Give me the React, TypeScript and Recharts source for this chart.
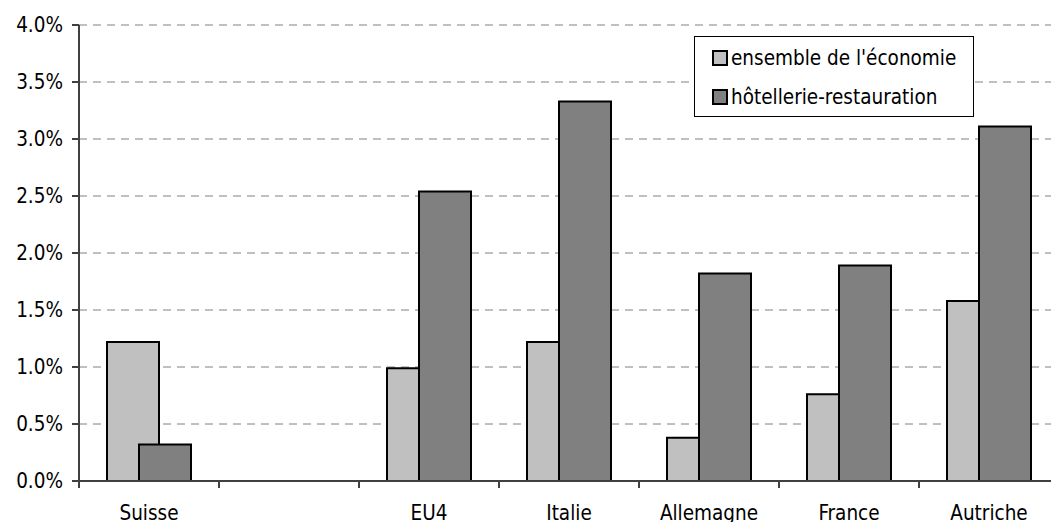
import {BarChart, Bar, XAxis, YAxis, CartesianGrid, Legend} from 'recharts';

const countries = ['Suisse', '', 'EU4', 'Italie', 'Allemagne', 'France', 'Autriche'];
const economie = [1.22, null, 0.99, 1.22, 0.38, 0.76, 1.58];
const hotellerie = [0.32, null, 2.54, 3.33, 1.82, 1.89, 3.11];
const yTicks = [0, 0.5, 1, 1.5, 2, 2.5, 3, 3.5, 4];

const data = countries.map((pays, i) => ({
  pays,
  economie: economie[i],
  hotellerie: hotellerie[i],
}));

const W = 1070;
const H = 522;
const M = {top: 25, right: 11, bottom: 0, left: 0};
const Y_W = 79;
const BAND = (W - M.left - M.right - Y_W) / countries.length;
const FONT = '"DejaVu Sans Condensed", "DejaVu Sans", Verdana, sans-serif';
const FS = 20.5;

const CatTick = (props: any) => {
  const {x, y, payload} = props;
  return (
    <g>
      <line x1={x - BAND / 2} y1={y - 8} x2={x - BAND / 2} y2={y - 1} stroke="#404040" strokeWidth={2}/>
      <text x={x} y={y + 31} textAnchor="middle" fontSize={FS} fontFamily={FONT} fill="#000">
        {payload.value}
      </text>
    </g>
  );
};

const LegendBox = ({payload}: any) => (
  <div style={{border: '1px solid #000', background: '#fff', width: 278, height: 79,
    boxSizing: 'content-box', fontFamily: FONT, fontSize: FS, color: '#000'}}>
    {(payload || []).map((p: any, i: number) => (
      <div key={i} style={{position: 'absolute', left: 18, top: 10 + i * 39, display: 'flex', alignItems: 'center'}}>
        <span style={{width: 12, height: 12, border: '2px solid #000', background: p.color,
          display: 'inline-block', marginRight: 3}}/>
        <span>{p.value}</span>
      </div>
    ))}
  </div>
);

const App = () => {
  return (
    <div style={{position: 'absolute', left: 0, top: 0, width: 1051, height: 522,
      overflow: 'hidden', background: '#fff'}}>
      <BarChart width={W} height={H} data={data} margin={M} barSize={52} barGap={-20}>
        <CartesianGrid vertical={false} stroke="#808080" strokeDasharray="8 6"/>
        <XAxis dataKey="pays" height={41} tickLine={false} tick={<CatTick/>}
               axisLine={{stroke: '#404040', strokeWidth: 2}} interval={0}/>
        <YAxis width={Y_W} domain={[0, 4]} ticks={yTicks} allowDataOverflow
               tickFormatter={(v: number) => v.toFixed(1) + '%'}
               tick={{fontSize: FS, fontFamily: FONT, fill: '#000'}}
               tickSize={7} tickMargin={9}
               tickLine={{stroke: '#404040', strokeWidth: 2}}
               axisLine={{stroke: '#404040', strokeWidth: 2}}/>
        <Legend layout="vertical" align="center" verticalAlign="middle"
                wrapperStyle={{left: 694, top: 36, width: 280}} content={<LegendBox/>}/>
        <Bar dataKey="economie" name="ensemble de l'économie" fill="#C0C0C0"
             stroke="#000" strokeWidth={2} isAnimationActive={false}/>
        <Bar dataKey="hotellerie" name="hôtellerie-restauration" fill="#808080"
             stroke="#000" strokeWidth={2} isAnimationActive={false}/>
      </BarChart>
    </div>
  );
};

export default App;
